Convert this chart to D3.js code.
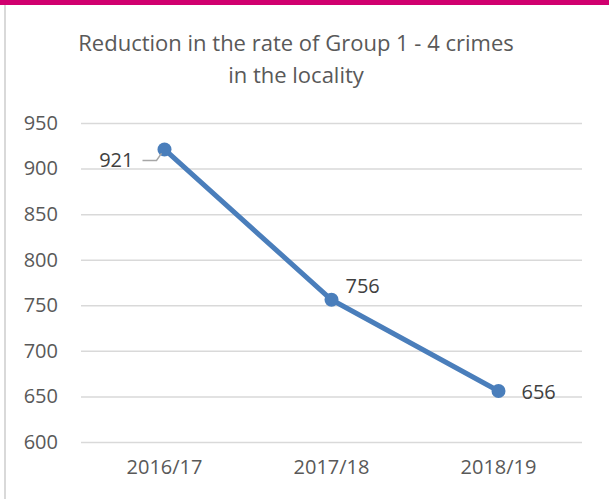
<!DOCTYPE html>
<html>
<head>
<meta charset="utf-8">
<script src="https://cdn.jsdelivr.net/npm/d3@7"></script>
<style>
  body { margin: 0; background: #fff; }
  text { font-family: "Open Sans", sans-serif; }
</style>
</head>
<body>
<div id="container"></div>
<script>
/* DATA */
const categories = ["2016/17", "2017/18", "2018/19"];
const crimeRates = [921, 756, 656];
const yTicks = [600, 650, 700, 750, 800, 850, 900, 950];
const titleLines = ["Reduction in the rate of Group 1 - 4 crimes", "in the locality"];

/* CONSTANTS */
const width = 609,
  height = 499,
  margin = { top: 123, bottom: 57, left: 81, right: 27 };

// label nudges, like dragging labels around in the spreadsheet
const labelOffsets = [
  { dx: -31, dy: 18, anchor: "end" },
  { dx: 14, dy: -7, anchor: "start" },
  { dx: 23, dy: 8, anchor: "start" }
];

const svg = d3.select("#container")
  .append("svg")
  .attr("width", width)
  .attr("height", height);

// frame: magenta strip on top, grey rule on the left
svg.append("rect")
  .attr("x", 0).attr("y", 0)
  .attr("width", width).attr("height", 5)
  .attr("fill", "#d0006f");
svg.append("line")
  .attr("x1", 5).attr("x2", 5)
  .attr("y1", 5).attr("y2", height)
  .attr("stroke", "#d9d9d9")
  .attr("stroke-width", 2);

/* SCALES */
const xScale = d3.scaleBand()
  .domain(categories)
  .range([margin.left, width - margin.right]);

const yScale = d3.scaleLinear()
  .domain([600, 950])
  .range([height - margin.bottom, margin.top]);

/* TITLE */
svg.append("g")
  .selectAll("text")
  .data(titleLines)
  .join("text")
  .attr("x", 296)
  .attr("y", (d, i) => 51 + i * 32)
  .attr("text-anchor", "middle")
  .attr("font-size", 22)
  .attr("fill", "#595959")
  .text(d => d);

/* AXES */
const yAxis = d3.axisLeft(yScale)
  .tickValues(yTicks)
  .tickSize(-(width - margin.left - margin.right))
  .tickPadding(23);

svg.append("g")
  .attr("transform", `translate(${margin.left},0)`)
  .call(yAxis)
  .call(g => g.select(".domain").remove())
  .call(g => g.selectAll(".tick line")
    .attr("stroke", "#d9d9d9")
    .attr("stroke-width", 1.5))
  .call(g => g.selectAll(".tick text")
    .attr("font-size", 20)
    .attr("font-family", "Open Sans, sans-serif")
    .attr("fill", "#595959"));

const xAxis = d3.axisBottom(xScale)
  .tickSize(0)
  .tickPadding(18);

svg.append("g")
  .attr("transform", `translate(0,${height - margin.bottom})`)
  .call(xAxis)
  .call(g => g.select(".domain").remove())
  .call(g => g.selectAll(".tick text")
    .attr("font-size", 20)
    .attr("font-family", "Open Sans, sans-serif")
    .attr("fill", "#595959"));

/* LINE */
const points = categories.map((c, i) => ({ cat: c, value: crimeRates[i] }));
const cx = d => xScale(d.cat) + xScale.bandwidth() / 2;

const line = d3.line()
  .x(cx)
  .y(d => yScale(d.value));

svg.append("path")
  .datum(points)
  .attr("d", line)
  .attr("fill", "none")
  .attr("stroke", "#4a7ebb")
  .attr("stroke-width", 5)
  .attr("stroke-linejoin", "round");

svg.selectAll("circle")
  .data(points)
  .join("circle")
  .attr("cx", cx)
  .attr("cy", d => yScale(d.value))
  .attr("r", 7)
  .attr("fill", "#4a7ebb");

/* LEADER LINE for the first label */
const p0 = points[0];
svg.append("polyline")
  .attr("points", [
    [cx(p0) - 22, yScale(p0.value) + 11],
    [cx(p0) - 8, yScale(p0.value) + 11],
    [cx(p0) - 3, yScale(p0.value) + 4]
  ].map(p => p.join(",")).join(" "))
  .attr("fill", "none")
  .attr("stroke", "#a6a6a6")
  .attr("stroke-width", 1.5);

/* DATA LABELS */
svg.append("g")
  .selectAll("text")
  .data(points)
  .join("text")
  .attr("x", (d, i) => cx(d) + labelOffsets[i].dx)
  .attr("y", (d, i) => yScale(d.value) + labelOffsets[i].dy)
  .attr("text-anchor", (d, i) => labelOffsets[i].anchor)
  .attr("font-size", 20)
  .attr("fill", "#404040")
  .text(d => d.value);
</script>
</body>
</html>
